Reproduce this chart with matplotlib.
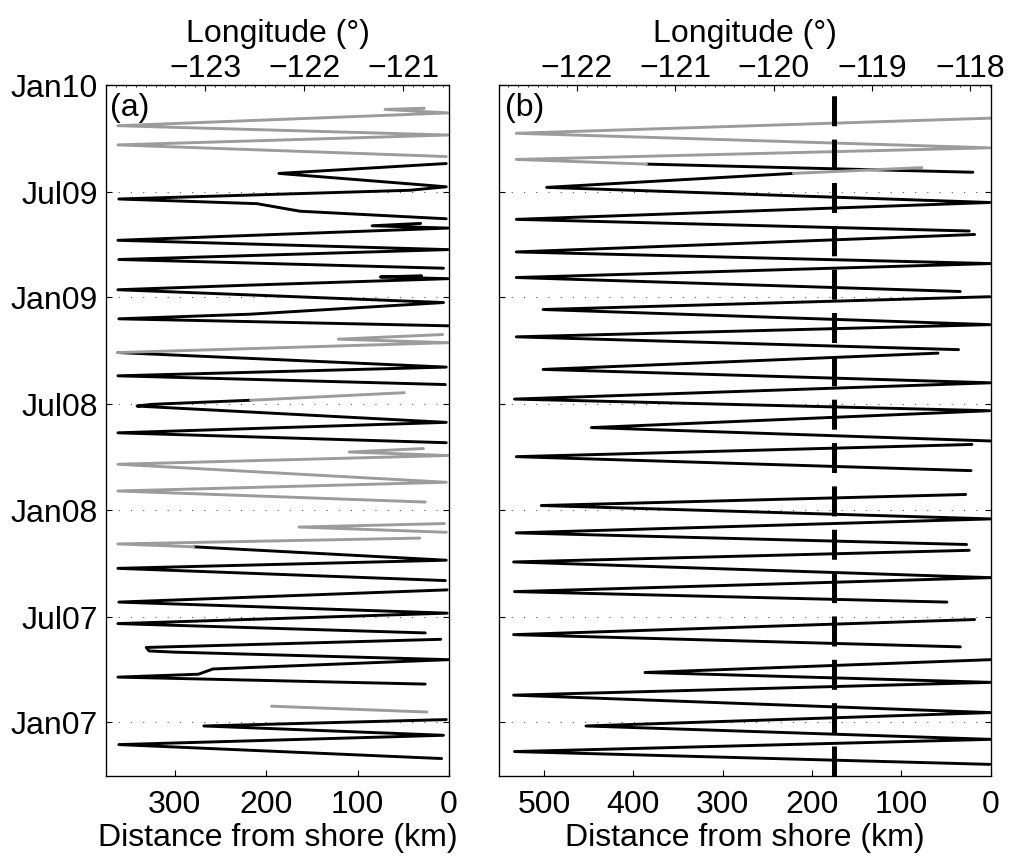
import numpy as np
import matplotlib
matplotlib.use("Agg")
import matplotlib.pyplot as plt
import matplotlib.dates as mdates
from matplotlib.ticker import MultipleLocator

plt.rcParams['font.family'] = ['Liberation Sans', 'DejaVu Sans']
plt.rcParams['font.size'] = 23

# glider tracks: (dates of turning points, distance from shore in km)
# panel (a)
a_black = [
    (["2006-10-31", "2006-11-24", "2006-12-10", "2006-12-26", "2007-01-06"],
     [8, 361, 6, 268, 3]),
    (["2007-03-08", "2007-03-20", "2007-03-25", "2007-04-03", "2007-04-19",
      "2007-05-02", "2007-05-04", "2007-05-10", "2007-05-24"],
     [26, 362, 274, 258, 0, 301, 328, 331, 9]),
    (["2007-06-04", "2007-06-20", "2007-07-08", "2007-07-27", "2007-08-17"],
     [26, 362, 2, 361, 2]),
    (["2007-09-02", "2007-09-23", "2007-10-07", "2007-10-30"],
     [4, 362, 3, 279]),
    (["2008-04-26", "2008-05-13", "2008-05-31", "2008-06-28", "2008-07-01", "2008-07-08"],
     [3, 362, 3, 341, 325, 217]),
    (["2008-08-04", "2008-08-19", "2008-09-03", "2008-09-28"],
     [4, 362, 3, 362]),
    (["2008-11-13", "2008-11-25", "2008-12-03", "2008-12-23", "2009-01-14",
      "2009-01-22", "2009-02-02", "2009-02-05", "2009-02-07"],
     [1, 361, 217, 6, 362, 217, 1, 75, 30]),
    (["2009-02-20", "2009-03-07", "2009-03-24", "2009-04-09", "2009-04-30",
      "2009-05-04", "2009-05-08"],
     [6, 361, 1, 362, 1, 84, 31]),
    (["2009-05-16", "2009-05-29", "2009-06-11", "2009-06-19", "2009-07-04",
      "2009-07-10", "2009-08-02", "2009-08-19"],
     [3, 163, 210, 361, 43, 3, 186, 3]),
]
a_gray = [
    (["2007-01-19", "2007-01-29"], [24, 194]),
    (["2007-10-30", "2007-11-04", "2007-11-14"], [279, 362, 32]),
    (["2007-11-24", "2007-12-03", "2007-12-09"], [3, 164, 5]),
    (["2008-01-15", "2008-02-03", "2008-02-18", "2008-03-20", "2008-04-04",
      "2008-04-10", "2008-04-16"],
     [26, 362, 3, 362, 1, 109, 28]),
    (["2008-07-08", "2008-07-21"], [217, 49]),
    (["2008-09-28", "2008-10-15", "2008-10-21", "2008-10-29"], [362, 1, 121, 7]),
    (["2009-08-31", "2009-09-20", "2009-10-07", "2009-10-23", "2009-11-14",
      "2009-11-20", "2009-11-22"],
     [3, 362, 1, 362, 1, 70, 27]),
]

# panel (b)
b_black = [
    (["2006-10-21", "2006-11-12", "2006-12-03", "2006-12-26", "2007-01-18",
      "2007-02-17", "2007-03-11", "2007-03-28", "2007-04-19"],
     [1, 533, 0, 453, 0, 534, 0, 387, 0]),
    (["2007-05-11", "2007-06-01", "2007-06-27"], [34, 534, 18]),
    (["2007-07-27", "2007-08-14", "2007-09-07", "2007-10-04", "2007-10-24"],
     [49, 533, 0, 534, 24]),
    (["2007-11-03", "2007-11-23", "2007-12-17", "2008-01-09", "2008-01-28"],
     [27, 531, 0, 503, 28]),
    (["2008-03-09", "2008-04-02", "2008-04-23"], [22, 531, 21]),
    (["2008-04-29", "2008-05-22", "2008-06-20", "2008-07-10", "2008-08-07",
      "2008-08-30", "2008-09-27"],
     [0, 447, 1, 533, 0, 501, 59]),
    (["2008-10-03", "2008-10-25", "2008-11-15", "2008-12-11", "2009-01-02"],
     [36, 531, 1, 501, 1]),
    (["2009-01-11", "2009-02-04", "2009-02-28", "2009-03-20", "2009-04-19"],
     [34, 531, 0, 531, 18]),
    (["2009-04-25", "2009-05-15", "2009-06-13", "2009-07-09", "2009-08-02"],
     [24, 531, 1, 497, 221]),
    (["2009-08-04", "2009-08-18"], [20, 385]),
]
b_gray = [
    (["2009-08-02", "2009-08-12"], [221, 77]),
    (["2009-08-18", "2009-08-26", "2009-09-15", "2009-10-10", "2009-11-05"],
     [385, 531, 1, 531, 0]),
]
b_ref_km = 175

ytick_dates = ["2007-01-01", "2007-07-01", "2008-01-01", "2008-07-01",
               "2009-01-01", "2009-07-01", "2010-01-01"]
a_km_ticks = [0, 100, 200, 300]
b_km_ticks = [0, 100, 200, 300, 400, 500]
a_lon_ticks = [-123, -122, -121]
b_lon_ticks = [-122, -121, -120, -119, -118]

t0, t1 = np.datetime64("2006-10-01"), np.datetime64("2010-01-01")

fig = plt.figure(figsize=(10.16, 8.56), dpi=100)
ax_a = fig.add_axes([0.10433, 0.09346, 0.33760, 0.80724])
ax_b = fig.add_axes([0.49144, 0.09346, 0.48366, 0.80724])


def draw_tracks(ax, tracks, color):
    for t, km in tracks:
        ax.plot(km, np.array(t, dtype="datetime64[D]"), color=color, lw=2.1,
                solid_capstyle="round", solid_joinstyle="round", zorder=2)


def setup(ax, kmax, km_ticks, lon_lim, lon_ticks, letter, ylabels):
    ax.set_xlim(kmax, 0)
    ax.set_ylim(t0, t1)
    ax.set_xticks(km_ticks)
    ax.set_yticks(np.array(ytick_dates, dtype="datetime64[D]"))
    ax.yaxis.set_major_formatter(mdates.DateFormatter("%b%y"))
    ax.tick_params(axis="x", direction="in", top=False, bottom=True,
                   length=4.5, width=0.8, pad=10)
    ax.tick_params(axis="y", direction="in", left=True, right=True,
                   length=4.5, width=0.8, pad=6, labelleft=ylabels)
    ax.grid(axis="y", color="0.35", lw=0.8, linestyle=(0, (1, 10)))
    for s in ax.spines.values():
        s.set_linewidth(0.9)
    ax.set_xlabel("Distance from shore (km)", labelpad=2)
    ax.text(0.012, 0.988, letter, transform=ax.transAxes, va="top", ha="left")

    top = ax.twiny()
    top.set_xlim(*lon_lim)
    top.set_xticks(lon_ticks)
    top.xaxis.set_minor_locator(MultipleLocator(0.1))
    top.tick_params(which="major", direction="in", length=4.5, width=0.8, pad=0.5)
    top.tick_params(which="minor", direction="in", length=1.6, width=0.6)
    top.set_xlabel("Longitude (°)", labelpad=9)
    return top


draw_tracks(ax_a, a_black, "black")
draw_tracks(ax_a, a_gray, "#9c9c9c")
draw_tracks(ax_b, b_black, "black")
draw_tracks(ax_b, b_gray, "#9c9c9c")
ax_b.axvline(b_ref_km, color="black", lw=3.6, linestyle=(0, (6.0, 2.67)), zorder=3)

setup(ax_a, 375, a_km_ticks, (-124.0, -120.54), a_lon_ticks, "(a)", True)
setup(ax_b, 550, b_km_ticks, (-122.79, -117.79), b_lon_ticks, "(b)", False)

fig.savefig("out.png", dpi=100)
